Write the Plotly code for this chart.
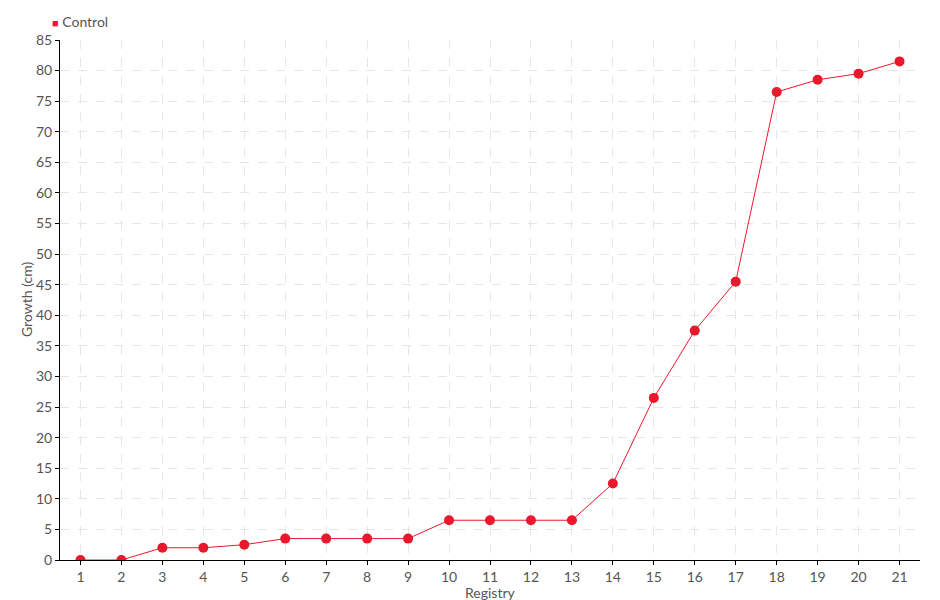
import plotly.graph_objects as go

registry = [str(i) for i in range(1, 22)]
growth = [0, 0, 2, 2, 2.5, 3.5, 3.5, 3.5, 3.5, 6.5, 6.5, 6.5, 6.5, 12.5, 26.5, 37.5, 45.5, 76.5, 78.5, 79.5, 81.5]
y_ticks = list(range(0, 90, 5))
series_name = "Control"
x_title = "Registry"
y_title = "Growth (cm)"

FONT = "Lato, Roboto, sans-serif"
RED = "#e8192c"
GREY = "#555555"

fig = go.Figure()
fig.add_trace(go.Scatter(
    x=list(range(1, 22)), y=growth, name=series_name, mode="lines+markers",
    line=dict(color=RED, width=1),
    marker=dict(color=RED, size=10, symbol="circle"),
    showlegend=False,
))

# legend swatch + label (compact, like the reference)
fig.add_annotation(
    xref="paper", yref="paper", x=-0.012, y=1.0, xanchor="left", yanchor="bottom",
    yshift=8, showarrow=False,
    text=f"<span style='color:{RED};font-size:11px'>■</span> {series_name}",
    font=dict(family=FONT, size=14, color=GREY),
)
# axis titles
fig.add_annotation(
    xref="paper", yref="paper", x=0.5, y=0, xanchor="center", yanchor="top",
    yshift=-22, showarrow=False, text=x_title,
    font=dict(family=FONT, size=14, color=GREY),
)
fig.add_annotation(
    xref="paper", yref="paper", x=0, y=0.5, xanchor="center", yanchor="middle",
    xshift=-34, textangle=-90, showarrow=False, text=y_title,
    font=dict(family=FONT, size=14, color=GREY),
)

fig.update_layout(
    width=940, height=600,
    paper_bgcolor="white", plot_bgcolor="white",
    margin=dict(l=52, r=28, t=32, b=48, autoexpand=False),
    font=dict(family=FONT, size=14, color=GREY),
    showlegend=False,
    xaxis=dict(
        range=[0.5, 21.5], tickmode="array", tickvals=list(range(1, 22)), ticktext=registry,
        showline=True, linecolor="black", linewidth=1,
        ticks="outside", ticklen=4, tickcolor="black",
        showgrid=True, gridcolor="#e6e6e6", griddash="dash", gridwidth=1,
        zeroline=False, automargin=False,
        tickfont=dict(size=14, color=GREY),
    ),
    yaxis=dict(
        range=[0, 85], tickmode="array", tickvals=y_ticks,
        showline=True, linecolor="black", linewidth=1,
        ticks="outside", ticklen=4, tickcolor="black",
        showgrid=True, gridcolor="#e6e6e6", griddash="dash", gridwidth=1,
        zeroline=False, automargin=False,
        tickfont=dict(size=14, color=GREY),
    ),
)

fig.write_html("out.html")
